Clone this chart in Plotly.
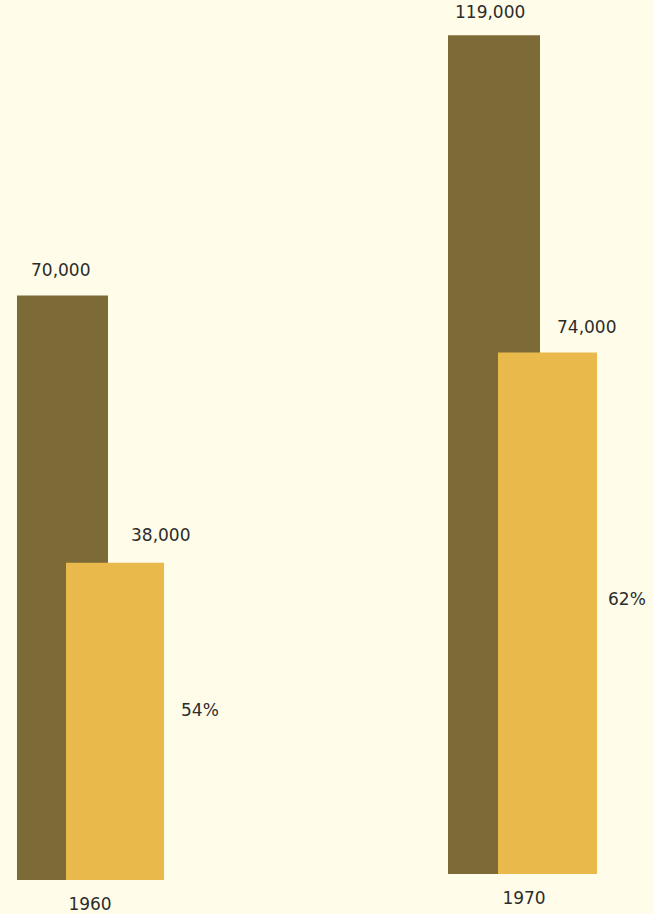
import plotly.graph_objects as go

# ---- data ----
years = [1960, 1970]
totals = [70000, 119000]       # dark bars
subset = [38000, 74000]        # yellow bars
pct_labels = [f"{round(s / t * 100)}%" for s, t in zip(subset, totals)]

# ---- style ----
BG = "#fffdea"
DARK = "#7c6a37"
GOLD = "#e9b94c"
TXT = "#2c2c2c"
FONT = "DejaVu Sans"
W, H = 654, 914

# per-group panel geometry
panels = [
    dict(xdom=(0, 180), base=883, yrange=105370,
         dark=(-0.4056, 0.5056), gold=(-0.1333, 0.5444),
         tot_shift=(-30, 25), sub_shift=(70, 28), pct_shift=(110, 11)),
    dict(xdom=(394, 654), base=877, yrange=124000,
         dark=(-0.2923, 0.3538), gold=(-0.10, 0.3808),
         tot_shift=(-34, 23), sub_shift=(62, 25), pct_shift=(103, 14)),
]

fig = go.Figure()
for i, (yr, tot, sub, pct, p) in enumerate(zip(years, totals, subset, pct_labels, panels)):
    xa = "x" if i == 0 else f"x{i+1}"
    ya = "y" if i == 0 else f"y{i+1}"
    fig.add_trace(go.Bar(x=[yr], y=[tot], xaxis=xa, yaxis=ya,
                         offset=p["dark"][0], width=p["dark"][1],
                         marker=dict(color=DARK, line=dict(width=0)),
                         showlegend=False, hoverinfo="skip"))
    fig.add_trace(go.Bar(x=[yr], y=[sub], xaxis=xa, yaxis=ya,
                         offset=p["gold"][0], width=p["gold"][1],
                         marker=dict(color=GOLD, line=dict(width=0)),
                         showlegend=False, hoverinfo="skip"))
    for val, txt, sh in [(tot, f"{tot:,}", p["tot_shift"]),
                         (sub, f"{sub:,}", p["sub_shift"]),
                         (sub / 2, pct, p["pct_shift"])]:
        fig.add_annotation(x=yr, y=val, xref=xa, yref=ya, text=txt,
                           showarrow=False, xanchor="center", yanchor="middle",
                           xshift=sh[0], yshift=sh[1],
                           font=dict(family=FONT, size=17, color=TXT))

fig.update_layout(
    width=W, height=H,
    margin=dict(l=0, r=0, t=0, b=0),
    paper_bgcolor=BG, plot_bgcolor=BG,
    barmode="overlay",
)
for i, (yr, p) in enumerate(zip(years, panels)):
    xk = "xaxis" if i == 0 else f"xaxis{i+1}"
    yk = "yaxis" if i == 0 else f"yaxis{i+1}"
    ya = "y" if i == 0 else f"y{i+1}"
    xa = "x" if i == 0 else f"x{i+1}"
    fig.update_layout({
        xk: dict(domain=[p["xdom"][0] / W, p["xdom"][1] / W], anchor=ya,
                 range=[yr - 0.5, yr + 0.5], tickvals=[yr], ticktext=[str(yr)],
                 showgrid=False, zeroline=False, showline=False, ticks="",
                 ticklabelstandoff=12,
                 tickfont=dict(family=FONT, size=17, color=TXT)),
        yk: dict(domain=[(H - p["base"]) / H, 1], anchor=xa,
                 range=[0, p["yrange"]], visible=False,
                 showgrid=False, zeroline=False),
    })

fig.write_html("out.html")
